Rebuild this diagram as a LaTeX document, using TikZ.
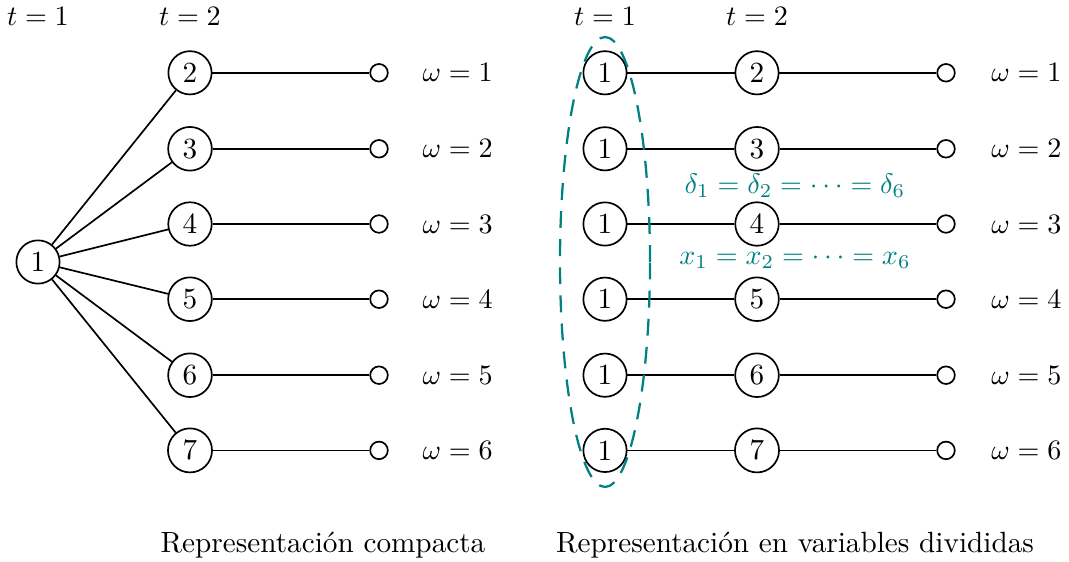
\documentclass[tikz,border=0pt]{standalone}
\usetikzlibrary{positioning}
\definecolor{tealgreen}{RGB}{0,128,128}
\begin{document}
\begin{tikzpicture}[
        font=\fontsize{10.4}{12.5}\selectfont,
        nd/.style={draw,circle,semithick,inner sep=2.4pt,minimum size=0.52cm},
        leaf/.style={draw,circle,semithick,inner sep=0pt,minimum size=0.22cm},
        ln/.style={draw,-,semithick}]
        \useasboundingbox (0,0) rectangle (13.3625,-7.025);

        % etiquetas de etapas
        \node (T1) at (0.475,-0.2) {$t=1$};
        \node (T2) at (2.375,-0.2) {$t=2$};
        \node (U1) at (7.5625,-0.2) {$t=1$};
        \node (U2) at (9.4625,-0.2) {$t=2$};

        % representacion compacta
        \node[nd] (A) at (0.475,-3.275) {1};
        \node[nd] (B2) at (2.375,-0.91) {2};
        \node[nd] (B3) at (2.375,-1.86) {3};
        \node[nd] (B4) at (2.375,-2.80) {4};
        \node[nd] (B5) at (2.375,-3.74) {5};
        \node[nd] (B6) at (2.375,-4.69) {6};
        \node[nd] (B7) at (2.375,-5.63) {7};
        \node[leaf] (W1) at (4.7375,-0.91) {};
        \node[leaf] (W2) at (4.7375,-1.86) {};
        \node[leaf] (W3) at (4.7375,-2.80) {};
        \node[leaf] (W4) at (4.7375,-3.74) {};
        \node[leaf] (W5) at (4.7375,-4.69) {};
        \node[leaf] (W6) at (4.7375,-5.63) {};
        \node (O1) at (5.72,-0.91) {$\omega=1$};
        \node (O2) at (5.72,-1.86) {$\omega=2$};
        \node (O3) at (5.72,-2.80) {$\omega=3$};
        \node (O4) at (5.72,-3.74) {$\omega=4$};
        \node (O5) at (5.72,-4.69) {$\omega=5$};
        \node (O6) at (5.72,-5.63) {$\omega=6$};

        \path [ln] (A) edge (B2) (A) edge (B3) (A) edge (B4)
                   (A) edge (B5) (A) edge (B6) (A) edge (B7);
        \path [ln] (B2) edge (W1) (B3) edge (W2) (B4) edge (W3)
                   (B5) edge (W4) (B6) edge (W5) (B7) edge (W6);

        % variables divididas
        \node[nd] (S1) at (7.5625,-0.91) {1};
        \node[nd] (S2) at (7.5625,-1.86) {1};
        \node[nd] (S3) at (7.5625,-2.80) {1};
        \node[nd] (S4) at (7.5625,-3.74) {1};
        \node[nd] (S5) at (7.5625,-4.69) {1};
        \node[nd] (S6) at (7.5625,-5.63) {1};
        \node[nd] (M2) at (9.4625,-0.91) {2};
        \node[nd] (M3) at (9.4625,-1.86) {3};
        \node[nd] (M4) at (9.4625,-2.80) {4};
        \node[nd] (M5) at (9.4625,-3.74) {5};
        \node[nd] (M6) at (9.4625,-4.69) {6};
        \node[nd] (M7) at (9.4625,-5.63) {7};
        \node[leaf] (V1) at (11.825,-0.91) {};
        \node[leaf] (V2) at (11.825,-1.86) {};
        \node[leaf] (V3) at (11.825,-2.80) {};
        \node[leaf] (V4) at (11.825,-3.74) {};
        \node[leaf] (V5) at (11.825,-4.69) {};
        \node[leaf] (V6) at (11.825,-5.63) {};
        \node (P1) at (12.83,-0.91) {$\omega=1$};
        \node (P2) at (12.83,-1.86) {$\omega=2$};
        \node (P3) at (12.83,-2.80) {$\omega=3$};
        \node (P4) at (12.83,-3.74) {$\omega=4$};
        \node (P5) at (12.83,-4.69) {$\omega=5$};
        \node (P6) at (12.83,-5.63) {$\omega=6$};

        \path [ln] (S1) edge (M2) (S2) edge (M3) (S3) edge (M4)
                   (S4) edge (M5) (S5) edge (M6) (S6) edge (M7);
        \path [ln] (M2) edge (V1) (M3) edge (V2) (M4) edge (V3)
                   (M5) edge (V4) (M6) edge (V5) (M7) edge (V6);

        \draw[tealgreen,thick,dash pattern=on 6pt off 4pt] (7.5625,-3.275) ellipse (0.5625 and 2.8125);
        \node[text=tealgreen] (D) at (9.9375,-2.325) {$\delta_1=\delta_2=\cdots=\delta_6$};
        \node[text=tealgreen] (X) at (9.9375,-3.25) {$x_1=x_2=\cdots=x_6$};

        \node (C1) at (4.0375,-6.8125) {Representación compacta};
        \node (C2) at (9.9375,-6.8125) {Representación en variables divididas};
    \end{tikzpicture}
\end{document}
